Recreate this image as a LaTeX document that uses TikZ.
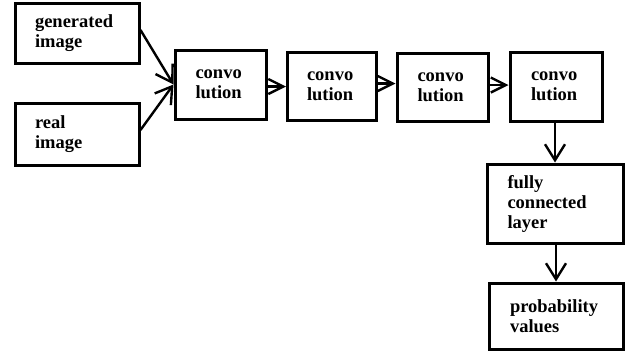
\documentclass[tikz,border=0pt]{standalone}
\usepackage{fontspec}
\setmainfont{Liberation Serif}
\usetikzlibrary{arrows.meta}

\begin{document}
\begin{tikzpicture}[x=1pt,y=-1pt,
  blk/.style={draw=black, line width=3pt, inner sep=0pt, align=left,
    font=\fontsize{18.5}{20}\selectfont\bfseries},
  arr/.style={line width=2.4pt, -{Straight Barb[length=16pt,width=20pt,line width=2.4pt]}},
  harr/.style={line width=2.4pt, -{Straight Barb[length=15pt,width=15pt,line width=2.4pt]}}
]
\useasboundingbox (0,0) rectangle (626,354);

% input boxes
\node[blk, minimum width=124pt, minimum height=60pt, text width=84pt] (gen) at (77,33) {generated\\image};
\node[blk, minimum width=124pt, minimum height=62pt, text width=84pt] (real) at (77,134) {real\\image};

% convolution chain
\node[blk, minimum width=91pt, minimum height=69pt, text width=50pt] (c1) at (220.5,84.5) {convo\\lution};
\node[blk, minimum width=89pt, minimum height=68pt, text width=50pt] (c2) at (332,86.5) {convo\\lution};
\node[blk, minimum width=91pt, minimum height=68pt, text width=50pt] (c3) at (442.5,87) {convo\\lution};
\node[blk, minimum width=92pt, minimum height=69pt, text width=50pt] (c4) at (556,86.5) {convo\\lution};

% output stages
\node[blk, minimum width=136pt, minimum height=79pt, text width=95pt] (fc) at (555,203.5) {fully\\connected\\layer};
\node[blk, minimum width=134pt, minimum height=66pt, text width=92pt] (prob) at (556,316) {probability\\values};

% connectors
\draw[arr] ([yshift=3pt]gen.east) -- (c1.west);
\draw[arr] ([yshift=4pt]real.east) -- (c1.west);
\draw[harr] (c1.east |- c2.west) -- (c2.west);
\draw[harr] ([yshift=3pt]c2.east) -- ([yshift=3pt]c2.east -| c3.west);
\draw[harr] ([yshift=2pt]c3.east) -- ([yshift=2pt]c3.east -| c4.west);
\draw[arr] (c4.south -| fc.north) -- (fc.north);
\draw[arr] (fc.south -| prob.north) -- (prob.north);
\end{tikzpicture}
\end{document}
